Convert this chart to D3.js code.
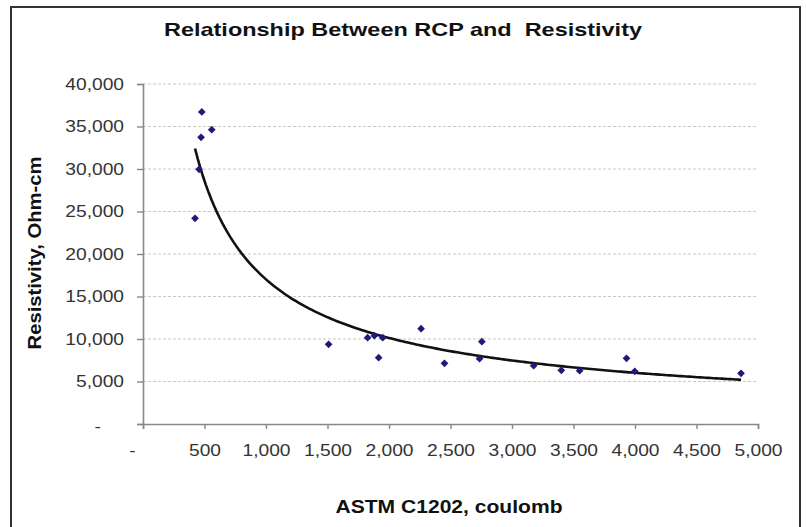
<!DOCTYPE html>
<html>
<head>
<meta charset="utf-8">
<script src="https://cdn.jsdelivr.net/npm/d3@7"></script>
<style>
  body { margin: 0; background: #fff; }
  text { font-family: "Liberation Sans", Arial, sans-serif; }
</style>
</head>
<body>
<div id="chart"></div>
<script>
// RCP (coulomb) vs resistivity (ohm-cm)
const rcp = [423, 456, 472, 478, 559, 1509, 1826, 1881, 1916, 1949, 2261, 2451, 2736, 2755, 3176, 3401, 3550, 3931, 3998, 4862];
const resistivity = [24200, 29960, 33730, 36710, 34620, 9380, 10150, 10390, 7800, 10150, 11210, 7140, 7680, 9680, 6860, 6320, 6270, 7730, 6200, 5965];
const xTicks = [0, 500, 1000, 1500, 2000, 2500, 3000, 3500, 4000, 4500, 5000];
const yTicks = [0, 5000, 10000, 15000, 20000, 25000, 30000, 35000, 40000];

const width = 806, height = 527;
const stretch = 1.2;

const svg = d3.select("#chart").append("svg")
    .attr("width", width)
    .attr("height", height);

// frame
svg.append("path")
    .attr("d", `M11,${height} V7 H800 V${height}`)
    .attr("fill", "none")
    .attr("stroke", "#333")
    .attr("stroke-width", 2);

const x = d3.scaleLinear().domain([0, 5000]).range([143, 758]);
const y = d3.scaleLinear().domain([0, 40000]).range([424, 84]);

const fmt = d => d === 0 ? "-" : d3.format(",")(d);

// gridlines
svg.append("g")
    .selectAll("line")
    .data(yTicks.filter(d => d > 0))
    .enter()
    .append("line")
    .attr("x1", x(0))
    .attr("x2", x(5000))
    .attr("y1", d => y(d))
    .attr("y2", d => y(d))
    .attr("stroke", "#c8c8c8")
    .attr("stroke-width", 1.2)
    .attr("stroke-dasharray", "3,2");

// axes
const yAxis = svg.append("g")
    .attr("transform", `translate(${x(0)},0)`)
    .call(d3.axisLeft(y).tickValues(yTicks).tickFormat(fmt).tickSize(6).tickPadding(13));

const xAxis = svg.append("g")
    .attr("transform", `translate(0,${y(0)})`)
    .call(d3.axisBottom(x).tickValues(xTicks).tickFormat(fmt).tickSize(5).tickPadding(16));

[yAxis, xAxis].forEach(ax => {
    ax.select(".domain").attr("stroke", "#888").attr("stroke-width", 1.6);
    ax.selectAll(".tick line").attr("stroke", "#888").attr("stroke-width", 1.4);
    ax.selectAll(".tick text")
        .attr("font-size", "16px")
        .attr("fill", "#333")
        .attr("font-family", "Liberation Sans, Arial, sans-serif")
        .attr("lengthAdjust", "spacingAndGlyphs")
        .attr("textLength", function() { return this.getComputedTextLength() * stretch; });
});
// the zero labels sit off to the side like Excel's accounting format
yAxis.selectAll(".tick").filter(d => d === 0).select("text").attr("x", -42).attr("dy", "0.45em");
xAxis.selectAll(".tick").filter(d => d === 0).select("text").attr("x", -11);

// trendline: power fit in log space, over the data range
const lx = rcp.map(Math.log), ly = resistivity.map(Math.log);
const mx = d3.mean(lx), my = d3.mean(ly);
const b = d3.sum(lx, (v, i) => (v - mx) * (ly[i] - my)) / d3.sum(lx, v => (v - mx) * (v - mx));
const a = Math.exp(my - b * mx);
const [xmin, xmax] = d3.extent(rcp);
const trend = d3.range(0, 201).map(i => {
    const xv = xmin + (xmax - xmin) * i / 200;
    return [xv, a * Math.pow(xv, b)];
});

svg.append("path")
    .datum(trend)
    .attr("fill", "none")
    .attr("stroke", "#111")
    .attr("stroke-width", 2.6)
    .attr("d", d3.line().x(d => x(d[0])).y(d => y(d[1])));

// points (square turned 45 degrees, like Excel's diamond marker)
svg.append("g")
    .selectAll("path")
    .data(rcp.map((v, i) => [v, resistivity[i]]))
    .enter()
    .append("path")
    .attr("d", d3.symbol().type(d3.symbolSquare).size(30))
    .attr("transform", d => `translate(${x(d[0])},${y(d[1])}) rotate(45)`)
    .attr("fill", "#1c1c78");

// titles
svg.append("text")
    .attr("x", 403)
    .attr("y", 36)
    .attr("text-anchor", "middle")
    .attr("font-size", "18.5px")
    .attr("font-weight", "bold")
    .attr("fill", "#111")
    .attr("textLength", 478)
    .attr("lengthAdjust", "spacingAndGlyphs")
    .style("white-space", "pre")
    .text("Relationship Between RCP and  Resistivity");

svg.append("text")
    .attr("x", 449)
    .attr("y", 513)
    .attr("text-anchor", "middle")
    .attr("font-size", "18px")
    .attr("font-weight", "bold")
    .attr("fill", "#111")
    .attr("textLength", 227)
    .attr("lengthAdjust", "spacingAndGlyphs")
    .text("ASTM C1202, coulomb");

svg.append("text")
    .attr("transform", "translate(41,253) rotate(-90)")
    .attr("text-anchor", "middle")
    .attr("font-size", "18px")
    .attr("font-weight", "bold")
    .attr("fill", "#111")
    .attr("textLength", 193)
    .attr("lengthAdjust", "spacingAndGlyphs")
    .text("Resistivity, Ohm-cm");
</script>
</body>
</html>
